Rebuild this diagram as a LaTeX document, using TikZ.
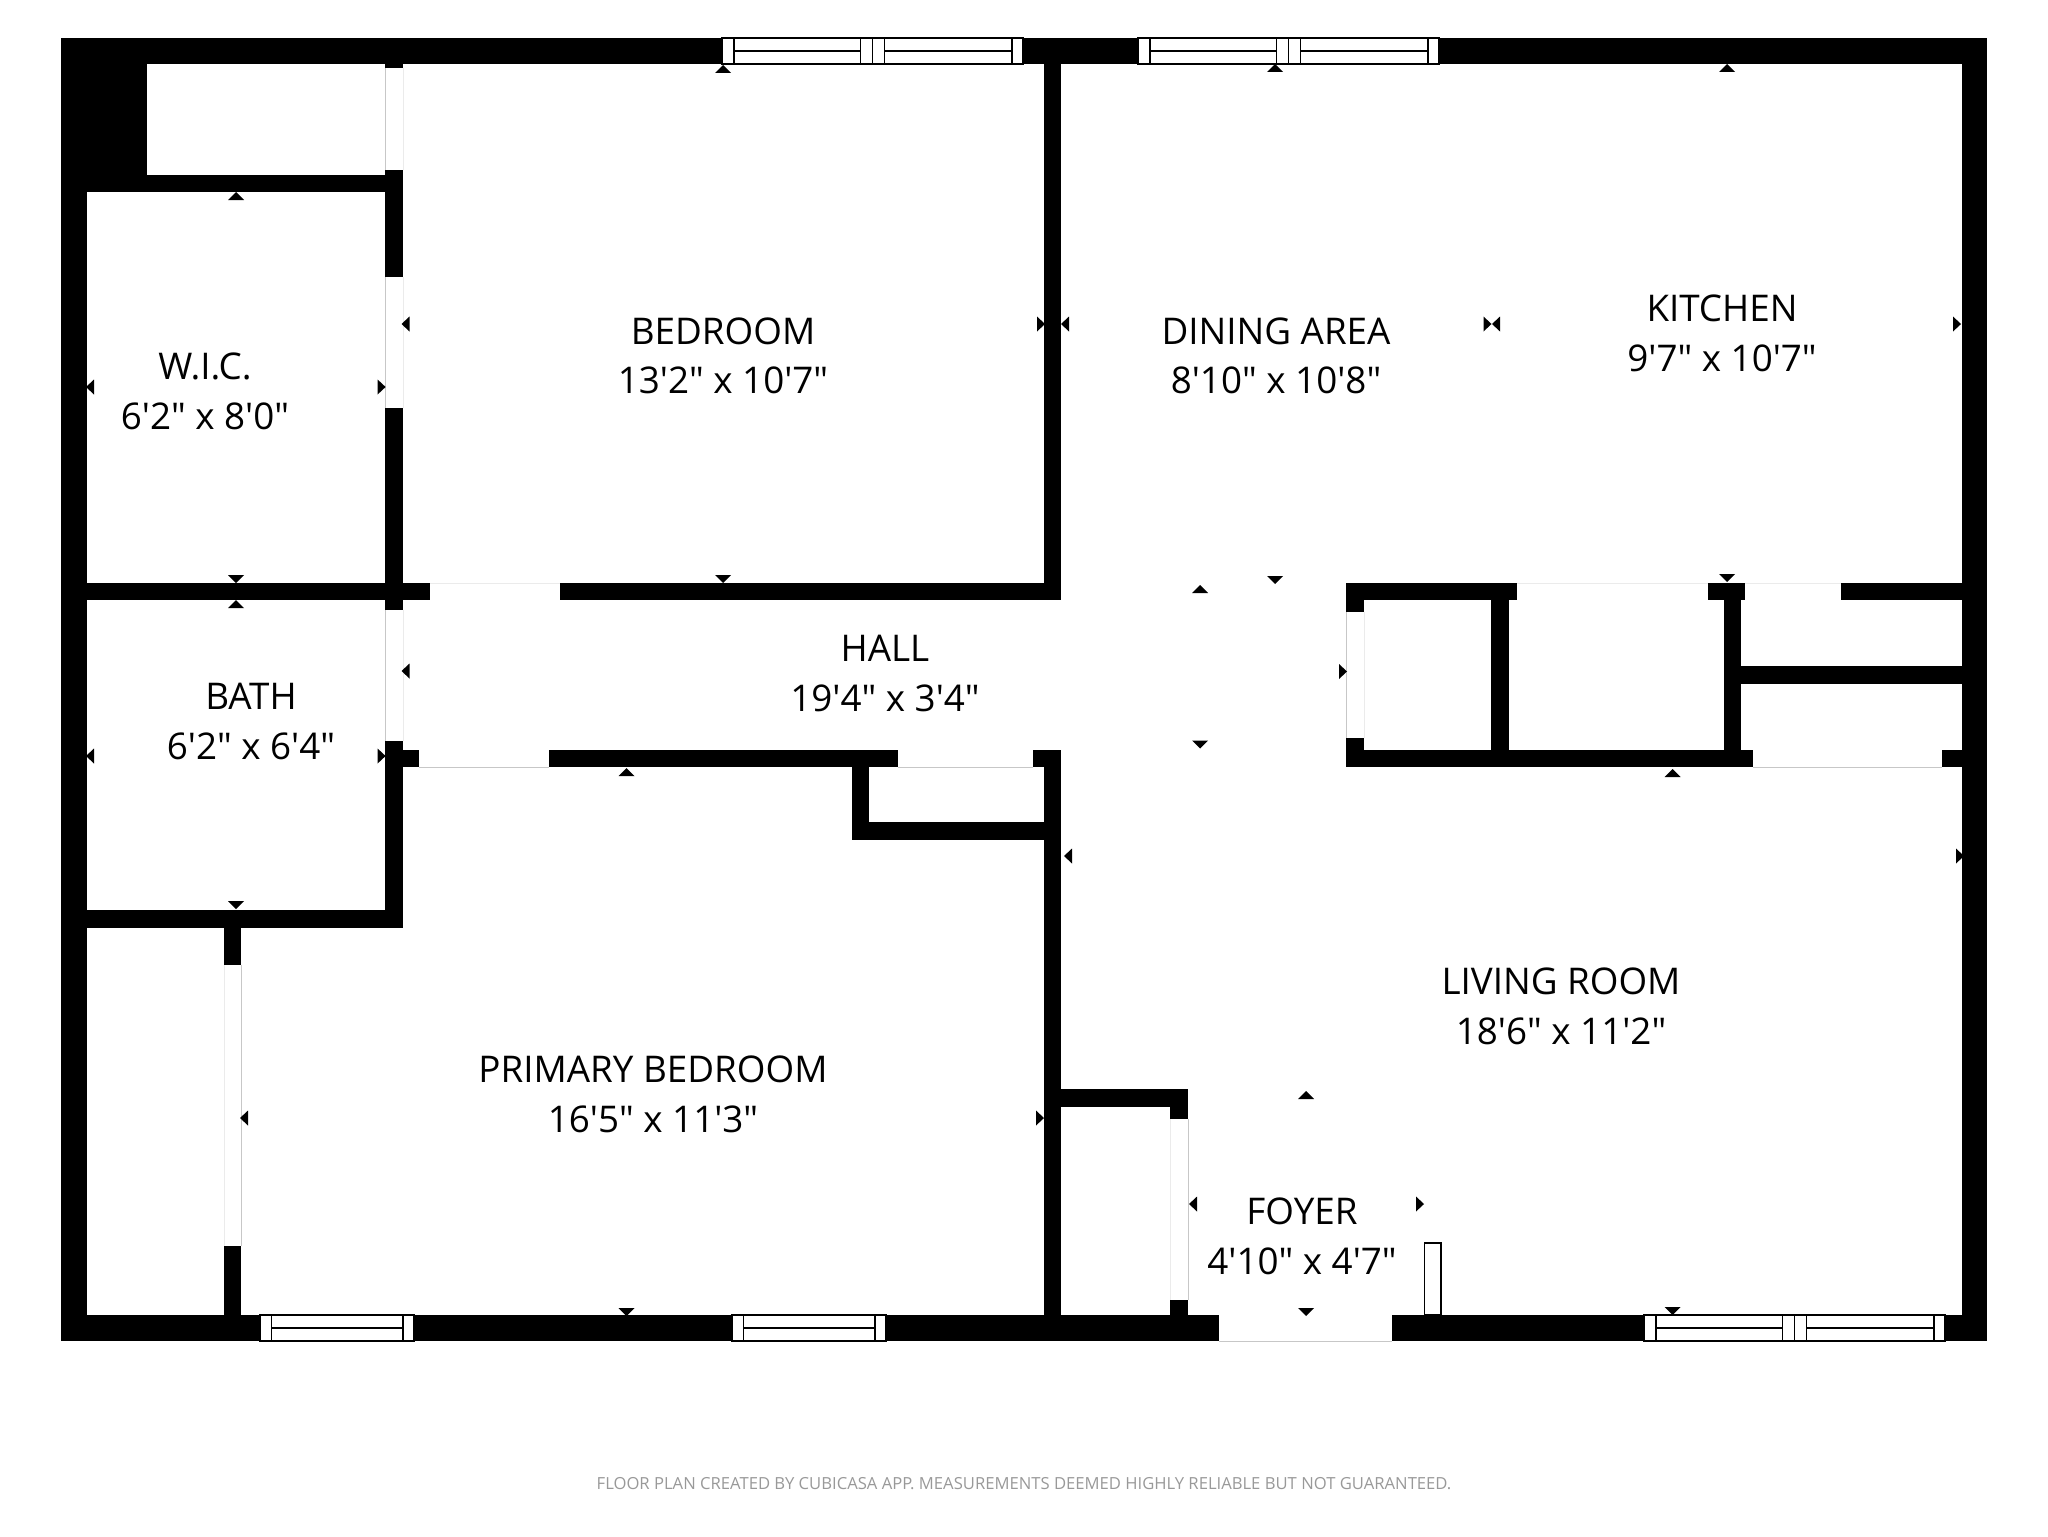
\documentclass[tikz,border=0pt]{standalone}
\usepackage{fontspec}
\newfontfamily\roomfont{Open Sans}
\tikzset{
  wall/.style={fill=black},
  sill/.style={draw=black!22, line width=0.4pt},
  palesill/.style={draw=black!8, line width=0.4pt},
  pane/.style={fill=white, draw=black, line width=0.65pt},
  mullion/.style={draw=black, line width=0.65pt},
  dimmark/.style={fill=black},
  room/.style={font=\roomfont\fontsize{18.4}{24.8}\selectfont, align=center, inner sep=0pt}
}
% double and single window, left edge and top edge in px
\newcommand{\dblwindow}[2]{
  \path [pane] (#1,#2) rectangle ++(301,26);
  \foreach \dx in {12,138.5,150.5,162.5,290}
    \draw [mullion] (#1+\dx,#2) -- ++(0,26);
  \draw [mullion] (#1+12,#2+13) -- ++(126.5,0);
  \draw [mullion] (#1+162.5,#2+13) -- ++(127.5,0);
}
\newcommand{\sglwindow}[2]{
  \path [pane] (#1,#2) rectangle ++(154,26);
  \foreach \dx in {11.5,143}
    \draw [mullion] (#1+\dx,#2) -- ++(0,26);
  \draw [mullion] (#1+11.5,#2+13) -- ++(131.5,0);
}
\begin{document}
\begin{tikzpicture}[x=0.5pt, y=-0.5pt]
    \useasboundingbox [fill=white] (0,0) rectangle (2048,1536);
    % outer walls
    \fill [wall] (61,38) rectangle (1987,64);
    \fill [wall] (61,1315) rectangle (1219,1341);
    \fill [wall] (1392,1315) rectangle (1987,1341);
    \fill [wall] (61,38) rectangle (87,1341);
    \fill [wall] (1962,38) rectangle (1987,1341);
    \fill [wall] (61,38) rectangle (147,192);
    % left rooms
    \fill [wall] (147,175) rectangle (403,192);
    \fill [wall] (385,64) rectangle (403,68);
    \fill [wall] (385,170) rectangle (403,277);
    \fill [wall] (385,408) rectangle (403,610);
    \fill [wall] (385,741) rectangle (403,928);
    \fill [wall] (87,583) rectangle (430,600);
    \fill [wall] (385,750) rectangle (419,767);
    \fill [wall] (87,910) rectangle (403,928);
    \fill [wall] (224,928) rectangle (241,965);
    \fill [wall] (224,1246) rectangle (241,1315);
    % bedroom and primary bedroom
    \fill [wall] (560,583) rectangle (1061,600);
    \fill [wall] (1044,64) rectangle (1061,600);
    \fill [wall] (549,750) rectangle (898,767);
    \fill [wall] (852,767) rectangle (869,840);
    \fill [wall] (852,822) rectangle (1061,840);
    \fill [wall] (1033,750) rectangle (1061,767);
    \fill [wall] (1044,750) rectangle (1061,1315);
    % foyer closet
    \fill [wall] (1061,1089) rectangle (1188,1107);
    \fill [wall] (1170,1107) rectangle (1188,1119);
    \fill [wall] (1170,1300) rectangle (1188,1315);
    % closets under the kitchen
    \fill [wall] (1346,583) rectangle (1517,600);
    \fill [wall] (1346,600) rectangle (1364,612);
    \fill [wall] (1346,738) rectangle (1364,767);
    \fill [wall] (1346,750) rectangle (1753,767);
    \fill [wall] (1491,600) rectangle (1509,750);
    \fill [wall] (1708,583) rectangle (1745,600);
    \fill [wall] (1724,600) rectangle (1741,750);
    \fill [wall] (1741,666) rectangle (1962,684);
    \fill [wall] (1841,583) rectangle (1962,600);
    \fill [wall] (1942,750) rectangle (1962,767);
    % faint lines along the openings
    \foreach \xa/\ya/\yb in {385/68/170,385/277/408,385/610/741,241/965/1246,1188/1119/1300,1346/612/738}
      \draw [sill] (\xa,\ya) -- (\xa,\yb);
    \foreach \xa/\ya/\yb in {403/68/170,403/277/408,403/610/741,224/965/1246,1170/1119/1300,1364/612/738}
      \draw [palesill] (\xa,\ya) -- (\xa,\yb);
    \foreach \xa/\xb/\ya in {419/549/767,898/1033/767,1753/1942/767,1219/1392/1341}
      \draw [sill] (\xa,\ya) -- (\xb,\ya);
    \foreach \xa/\xb/\ya in {430/560/583,1517/1708/583,1745/1841/583}
      \draw [palesill] (\xa,\ya) -- (\xb,\ya);
    % windows
    \dblwindow{722}{38}
    \dblwindow{1138}{38}
    \dblwindow{1644}{1315}
    \sglwindow{260}{1315}
    \sglwindow{732}{1315}
    \path [pane] (1424.5,1243) rectangle (1441,1315);
    % dimension marks
    \foreach \x/\y in {723/69,236/196,236/604,626.5/772,1275/68,1727/68,1200/589,1672.5/773,1306/1095}
      \fill [dimmark] (\x,\y) +(0,-4) -- +(8,4) -- +(-8,4) -- cycle;
    \foreach \x/\y in {723/579,236/579,236/905,626.5/1312,1275/580,1727/578,1200/744.5,1672.5/1311,1306/1312}
      \fill [dimmark] (\x,\y) +(0,4) -- +(8,-4) -- +(-8,-4) -- cycle;
    \foreach \x/\y in {405.5/324,90/387,90/756,405.5/671,244/1118,1065/324,1496/324,1068/856,1193/1204}
      \fill [dimmark] (\x,\y) +(-4,0) -- +(4,7.5) -- +(4,-7.5) -- cycle;
    \foreach \x/\y in {1041/324,381.6/387,381.6/756,1040/1118,1487.5/324,1957/324,1343/671.5,1960/856,1420/1204}
      \fill [dimmark] (\x,\y) +(4,0) -- +(-4,7.5) -- +(-4,-7.5) -- cycle;
    % room labels
    \node [room] (bedroom) at (723,356) {BEDROOM\\13'2" x 10'7"};
    \node [room] (wic) at (205,391.5) {W.I.C.\\6'2" x 8'0"};
    \node [room] (dining) at (1276,356) {DINING AREA\\8'10" x 10'8"};
    \node [room] (kitchen) at (1722,333.5) {KITCHEN\\9'7" x 10'7"};
    \node [room] (hall) at (885,673.5) {HALL\\19'4" x 3'4"};
    \node [room] (bath) at (251,721.5) {BATH\\6'2" x 6'4"};
    \node [room] (primary) at (653,1094.5) {PRIMARY BEDROOM\\16'5" x 11'3"};
    \node [room] (living) at (1561,1006.5) {LIVING ROOM\\18'6" x 11'2"};
    \node [room] (foyer) at (1302,1236.5) {FOYER\\4'10" x 4'7"};
    \node [font=\roomfont\fontsize{8.32}{10}\selectfont, text=black!40, inner sep=0pt] (credit) at (1024,1484)
      {FLOOR PLAN CREATED BY CUBICASA APP. MEASUREMENTS DEEMED HIGHLY RELIABLE BUT NOT GUARANTEED.};
  \end{tikzpicture}
\end{document}
